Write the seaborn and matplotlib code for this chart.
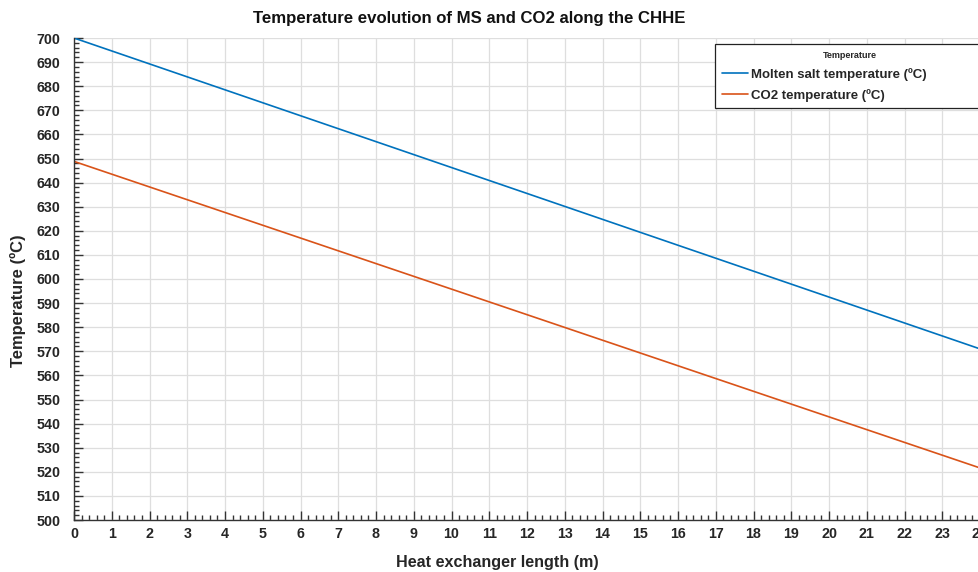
import numpy as np
import pandas as pd
import matplotlib
matplotlib.use("Agg")
import matplotlib.pyplot as plt
from matplotlib.lines import Line2D
from matplotlib.ticker import MultipleLocator
import seaborn as sns

# Temperature profiles along the heat exchanger (x in metres, T in ºC)
length_m = [0, 4, 8, 12, 16, 20, 24]
molten_salt_temp = [700.0, 678.5, 657.0, 635.5, 614.0, 592.5, 571.0]
co2_temp = [648.8, 627.6, 606.4, 585.2, 564.0, 542.8, 521.6]
series_names = ["Molten salt temperature (ºC)", "CO2 temperature (ºC)"]
series_colors = ["#0072BD", "#D95319"]

df = pd.DataFrame({
    "x": length_m * 2,
    "T": molten_salt_temp + co2_temp,
    "series": [series_names[0]] * len(length_m) + [series_names[1]] * len(length_m),
})

sns.set_theme(style="white")
plt.rcParams["font.family"] = ["Liberation Sans", "DejaVu Sans"]
plt.rcParams["font.weight"] = "bold"

W, H = 979, 572
fig = plt.figure(figsize=(W / 100, H / 100), dpi=100)
left, right, top, bottom = 74, 980, 38, 520
ax = fig.add_axes([left / W, 1 - bottom / H, (right - left) / W, (bottom - top) / H])

sns.lineplot(data=df, x="x", y="T", hue="series", palette=series_colors,
             linewidth=1.2, ax=ax, legend=False)

ax.set_xlim(0, 24)
ax.set_ylim(500, 700)
ax.xaxis.set_major_locator(MultipleLocator(1))
ax.xaxis.set_minor_locator(MultipleLocator(0.2))
ax.yaxis.set_major_locator(MultipleLocator(10))
ax.yaxis.set_minor_locator(MultipleLocator(2))

ax.grid(True, which="major", color="#dedede", linewidth=0.9)
ax.set_axisbelow(True)
for s in ["top", "right"]:
    ax.spines[s].set_visible(False)
for s in ["left", "bottom"]:
    ax.spines[s].set_color("#333333")
    ax.spines[s].set_linewidth(1.0)

ax.tick_params(which="major", direction="in", length=6.5, width=1.0, color="#333333",
               labelsize=10.3, labelcolor="#262626")
ax.tick_params(axis="y", which="major", pad=10)
ax.tick_params(axis="x", which="major", pad=5)
ax.tick_params(which="minor", direction="in", length=3.5, width=1.0, color="#333333")
ax.tick_params(axis="both", which="both", left=True, bottom=True)
for lbl in ax.get_xticklabels() + ax.get_yticklabels():
    lbl.set_fontweight("bold")

ax.set_xlabel("Heat exchanger length (m)", fontsize=11.6, fontweight="bold",
              color="#262626")
ax.xaxis.set_label_coords((497 - left) / (right - left), -(563 - bottom) / (bottom - top))
ax.xaxis.label.set_va("center")
ax.set_ylabel("Temperature (ºC)", fontsize=11.9, fontweight="bold", color="#262626")
ax.yaxis.set_label_coords(-(left - 18) / (right - left), (bottom - 301) / (bottom - top))
ax.yaxis.label.set_va("center")
fig.text(469 / W, 1 - 18 / H,
         "Temperature evolution of MS and CO2 along the CHHE",
         ha="center", va="center", fontsize=12.1, fontweight="bold", color="#111111")

# Legend with a header row
handles = [Line2D([], [], color=c, linewidth=1.2) for c in series_colors]
leg_x0, leg_top, leg_bot = 715, 44, 110
leg = fig.legend(handles, series_names, loc="upper left",
                 bbox_to_anchor=(leg_x0 / W, 1 - leg_bot / H, (W + 5 - leg_x0) / W, (leg_bot - leg_top) / H),
                 mode="expand", title="Temperature", fancybox=False, framealpha=1,
                 edgecolor="#222222", borderaxespad=0, borderpad=0.5,
                 handlelength=2.0, handletextpad=0.2, labelspacing=0.62,
                 prop={"weight": "bold", "size": 9.5},
                 title_fontproperties={"weight": "bold", "size": 6.5})
leg.get_frame().set_linewidth(0.9)
fig.add_artist(Line2D([leg_x0 / W, 1.0], [1 - 62 / H, 1 - 62 / H],
                      transform=fig.transFigure, color="#222222", linewidth=0.9))

fig.savefig("out.png", dpi=100)
